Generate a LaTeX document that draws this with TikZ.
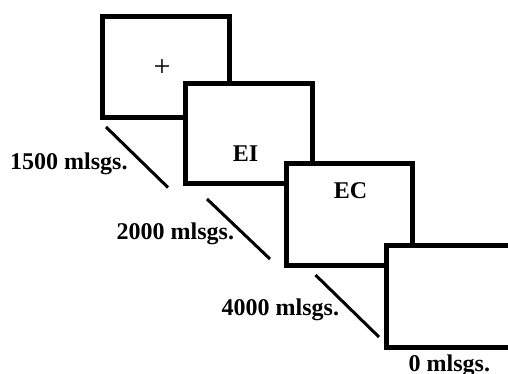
\documentclass[tikz,border=0pt]{standalone}
\usepackage{fontspec}
\setmainfont{Liberation Serif}

\begin{document}
\begin{tikzpicture}[x=1pt, y=-1pt, font=\fontsize{24}{28}\selectfont\bfseries]
        \clip (0,0) rectangle (508,374);

        % the four screens, each one covering the last
        \node[draw, fill=white, line width=5pt, minimum width=127pt, minimum height=101pt, inner sep=0] (scr1) at (166, 67) {};
        \node[draw, fill=white, line width=5pt, minimum width=127pt, minimum height=100pt, inner sep=0] (scr2) at (249, 133.3) {};
        \node[draw, fill=white, line width=5pt, minimum width=126pt, minimum height=102pt, inner sep=0] (scr3) at (349.5, 214.5) {};
        \node[draw, fill=white, line width=5pt, minimum width=127pt, minimum height=102pt, inner sep=0] (scr4) at (450, 296.5) {};

        \node[font=\fontsize{30}{34}\selectfont, inner sep=0] (fix) at (162, 68.5) {+};
        \node[anchor=base, inner sep=0] (ei) at (245.5, 161) {EI};
        \node[anchor=base, inner sep=0] (ec) at (350.5, 198) {EC};

        % time steps between screens
        \coordinate (t1a) at (106, 127);
        \coordinate (t1b) at (168, 187.5);
        \coordinate (t2a) at (207, 199);
        \coordinate (t2b) at (270, 259);
        \coordinate (t3a) at (315.5, 275);
        \coordinate (t3b) at (379, 337);
        \draw[line width=3pt] (t1a) -- (t1b);
        \draw[line width=3pt] (t2a) -- (t2b);
        \draw[line width=3pt] (t3a) -- (t3b);

        \node[anchor=base west, inner sep=0] (d1) at (10, 170) {1500 mlsgs.};
        \node[anchor=base west, inner sep=0] (d2) at (116.5, 239) {2000 mlsgs.};
        \node[anchor=base west, inner sep=0] (d3) at (221.5, 315) {4000 mlsgs.};
        \node[anchor=base west, inner sep=0] (d4) at (408.5, 371) {0 mlsgs.};
    \end{tikzpicture}
\end{document}
